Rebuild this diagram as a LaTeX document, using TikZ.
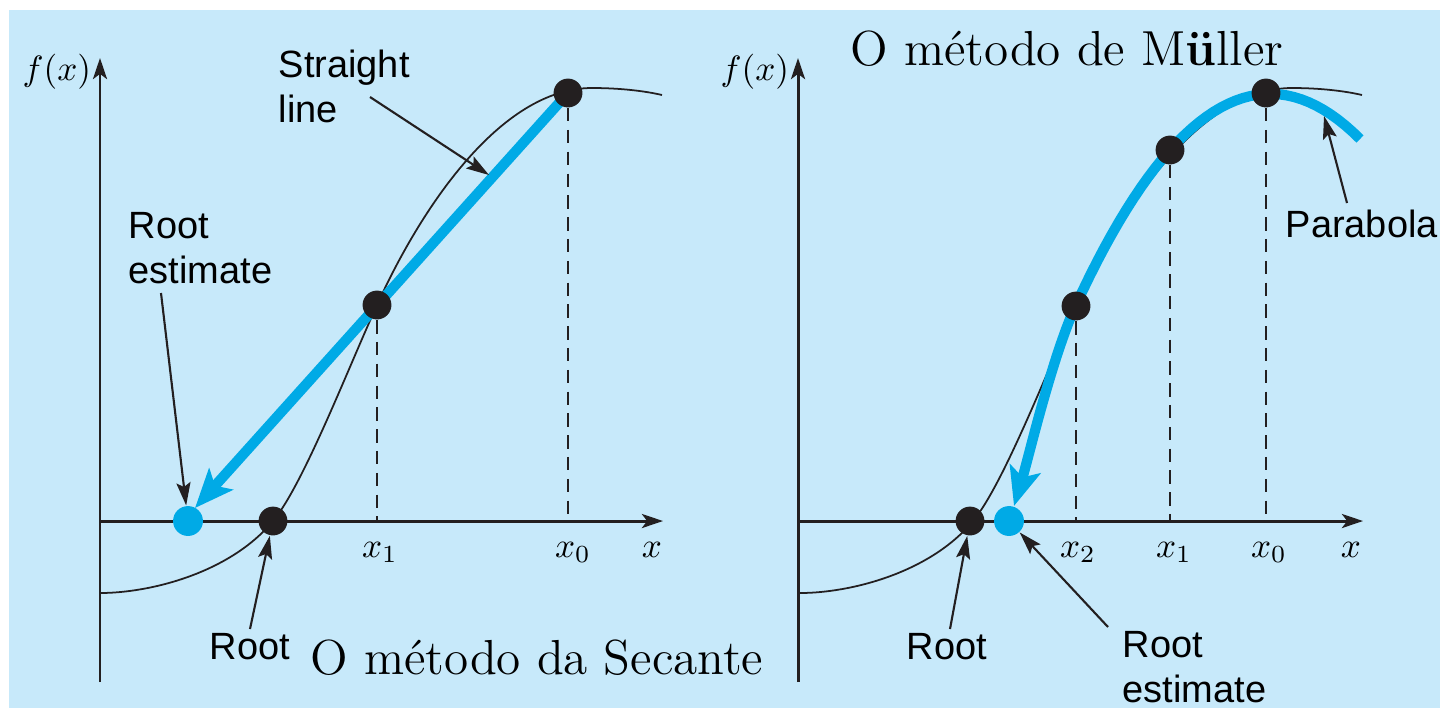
\documentclass[tikz,border=0pt]{standalone}
\usepackage{fontspec}
\newfontfamily\lblfont{Liberation Sans}
\usetikzlibrary{arrows.meta,positioning}
\definecolor{bgblue}{RGB}{199,233,250}
\definecolor{estblue}{RGB}{0,170,230}
\definecolor{ink}{RGB}{35,31,32}

\begin{document}
\begin{tikzpicture}[x=0.01cm,y=-0.01cm,
  axis/.style={line width=0.85pt,ink,-{Stealth[length=6pt,width=4pt,inset=1.5pt]}},
  fcurve/.style={line width=0.5pt,ink},
  guide/.style={line width=0.7pt,ink,dash pattern=on 3.8pt off 2.4pt},
  approx/.style={line width=2.9pt,estblue,-{Stealth[length=11pt,width=9pt,inset=2.5pt]}},
  callout/.style={line width=0.6pt,ink,-{Stealth[length=6.5pt,width=4pt,inset=1.2pt]}},
  bdot/.style={circle,fill=ink,inner sep=0pt,minimum size=8.2pt},
  edot/.style={circle,fill=estblue,inner sep=0pt,minimum size=8.5pt},
  lbl/.style={font=\lblfont\fontsize{10.8}{12.8}\selectfont,inner sep=0pt,align=left},
  title/.style={font=\fontsize{14}{16}\selectfont,inner sep=0pt,anchor=base west},
  mlbl/.style={font=\fontsize{10}{12}\selectfont,inner sep=0pt,anchor=base}]
  \useasboundingbox (0,0) rectangle (1440,708);
  \fill[bgblue] (9,10) rectangle (1440,708);

  % secant method
  \coordinate (oA) at (100,521);
  \coordinate (yA) at (100,58);
  \coordinate (bA) at (100,682);
  \coordinate (xA) at (663,521);
  \draw[axis] (bA) -- (yA);
  \draw[axis] (oA) -- (xA);
  \foreach \dx in {0,700}
    \draw[fcurve,xshift=\dx*0.01cm] (100,593) .. controls (150,593) and (230,573) .. (273,521)
      .. controls (303,485) and (347,371) .. (377,305)
      .. controls (420,210) and (500,88) .. (592,88)
      .. controls (620,88) and (645,91) .. (662,95);
  \coordinate (c0A) at (568,93);
  \coordinate (tipA) at (195,508);
  \draw[approx] (c0A) -- (tipA);
  \node[bdot] (x0A) at (c0A) {};
  \node[bdot] (x1A) at (377,305) {};
  \node[bdot] (rootA) at (273,521) {};
  \node[edot] (estA) at (188,521) {};
  \draw[guide] (x1A) -- (x1A |- oA);
  \draw[guide] (x0A) -- (x0A |- oA);
  \node[mlbl] (lx1A) at (380,557) {$x_1$};
  \node[mlbl] (lx0A) at (573,557) {$x_0$};
  \node[mlbl] (lxA) at (652,557) {$x$};
  \node[mlbl,anchor=base west] (lfA) at (22,80) {$f(x)$};
  \node[lbl,anchor=north west] (slA) at (278,49) {Straight\\line};
  \node[lbl,anchor=north west] (reA) at (128,212) {Root\\estimate};
  \node[lbl,anchor=base west] (rtA) at (209,659) {Root};
  \node[title] (ttA) at (310,674) {O método da Secante};
  \coordinate (slS) at (370,97);
  \coordinate (slE) at (489,175);
  \coordinate (reS) at (161,293);
  \coordinate (rtS) at (250,629);
  \draw[callout] (slS) -- (slE);
  \draw[callout] (reS) -- (estA);
  \draw[callout] (rtS) -- (rootA);

  % Muller method
  \coordinate (oB) at (798,521);
  \coordinate (yB) at (798,58);
  \coordinate (bB) at (798,682);
  \coordinate (xB) at (1363,521);
  \draw[axis] (bB) -- (yB);
  \draw[axis] (oB) -- (xB);
  \coordinate (tipB) at (1014,506);
  \draw[approx] plot[domain=2:-1,samples=40] ({1170+95*\x},{50.5*\x*\x-106.5*\x+150})
    .. controls (1051,361) and (1029,456) .. (tipB);
  \node[bdot] (x0B) at (1266,93) {};
  \node[bdot] (x1B) at (1170,150) {};
  \node[bdot] (x2B) at (1076,306) {};
  \node[bdot] (rootB) at (970,521) {};
  \node[edot] (estB) at (1009,521) {};
  \draw[guide] (x2B) -- (x2B |- oB);
  \draw[guide] (x1B) -- (x1B |- oB);
  \draw[guide] (x0B) -- (x0B |- oB);
  \node[mlbl] (lx2B) at (1078,557) {$x_2$};
  \node[mlbl] (lx1B) at (1174,557) {$x_1$};
  \node[mlbl] (lx0B) at (1269,557) {$x_0$};
  \node[mlbl] (lxB) at (1351,557) {$x$};
  \node[mlbl,anchor=base west] (lfB) at (720,80) {$f(x)$};
  \node[lbl,anchor=base west] (pbB) at (1285,237) {Parabola};
  \node[lbl,anchor=base west] (rtB) at (906,659) {Root};
  \node[lbl,anchor=north west] (reB) at (1122,631) {Root\\estimate};
  \node[title] (ttB) at (850,65) {O método de M\textbf{ü}ller};
  \coordinate (pbS) at (1347,203);
  \coordinate (pbE) at (1324,116);
  \coordinate (rtS2) at (950,629);
  \coordinate (reS2) at (1108,627);
  \draw[callout] (pbS) -- (pbE);
  \draw[callout] (rtS2) -- (rootB);
  \draw[callout] (reS2) -- (estB);
\end{tikzpicture}
\end{document}
